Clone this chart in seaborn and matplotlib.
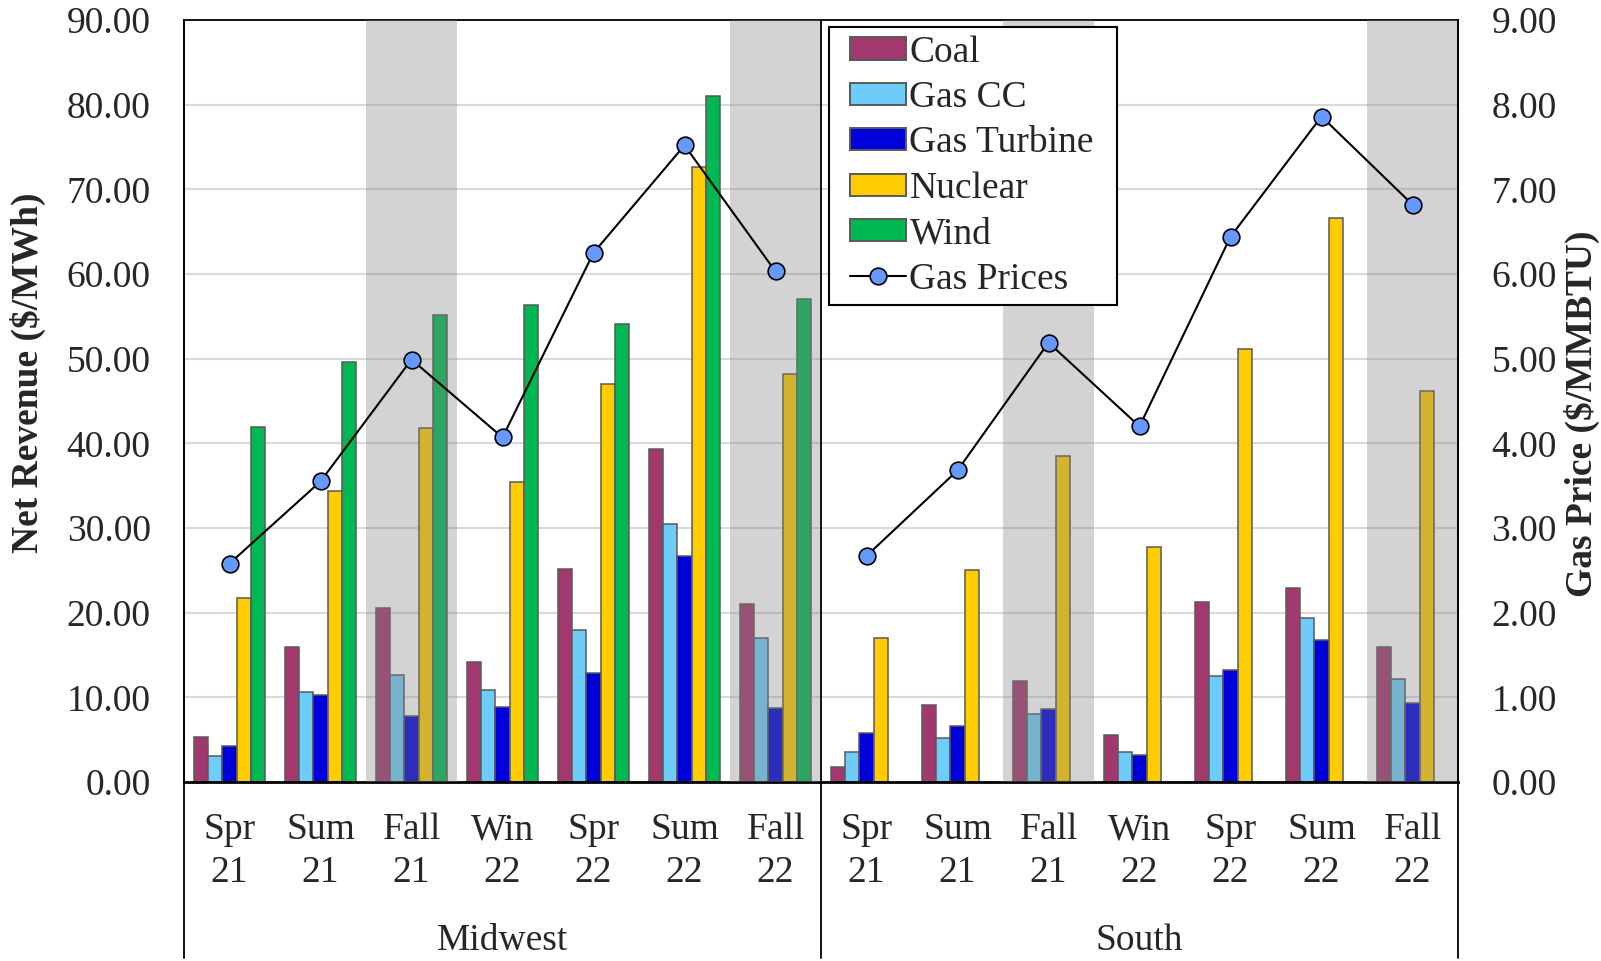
import numpy as np
import pandas as pd
import matplotlib
matplotlib.use("Agg")
import matplotlib.pyplot as plt
from matplotlib.patches import Patch
from matplotlib.lines import Line2D
from matplotlib.legend_handler import HandlerPatch, HandlerLine2D
from matplotlib.ticker import StrMethodFormatter
import seaborn as sns

# ---- data -------------------------------------------------------------
regions = ["Midwest", "South"]
seasons = ["Spr\n21", "Sum\n21", "Fall\n21", "Win\n22", "Spr\n22", "Sum\n22", "Fall\n22"]
technologies = ["Coal", "Gas CC", "Gas Turbine", "Nuclear", "Wind"]
shaded_seasons = ["Fall\n21", "Fall\n22"]

midwest_coal = [5.3, 16.0, 20.6, 14.2, 25.1, 39.3, 21.0]
midwest_gas_cc = [3.1, 10.6, 12.6, 10.9, 17.9, 30.5, 17.0]
midwest_gas_turbine = [4.3, 10.3, 7.8, 8.8, 12.9, 26.7, 8.7]
midwest_nuclear = [21.7, 34.4, 41.8, 35.4, 47.0, 72.6, 48.2]
midwest_wind = [41.9, 49.6, 55.1, 56.3, 54.1, 81.0, 57.0]
midwest_gas_price = [2.58, 3.55, 4.99, 4.07, 6.25, 7.52, 6.03]

south_coal = [1.8, 9.1, 11.9, 5.6, 21.3, 22.9, 16.0]
south_gas_cc = [3.6, 5.2, 8.0, 3.6, 12.5, 19.4, 12.2]
south_gas_turbine = [5.8, 6.6, 8.6, 3.2, 13.2, 16.8, 9.3]
south_nuclear = [17.0, 25.0, 38.5, 27.7, 51.2, 66.6, 46.2]
south_wind = [None] * 7
south_gas_price = [2.67, 3.68, 5.19, 4.20, 6.44, 7.86, 6.82]

tech_colors = ["#a3386e", "#6ecdf8", "#0000da", "#ffcc00", "#00b852"]
marker_color = "#6699ff"

# ---- long-form table -------------------------------------------------
series = {
    "Midwest": [midwest_coal, midwest_gas_cc, midwest_gas_turbine, midwest_nuclear, midwest_wind],
    "South": [south_coal, south_gas_cc, south_gas_turbine, south_nuclear, south_wind],
}
rows = []
order = []
for region in regions:
    for i, season in enumerate(seasons):
        key = f"{region}|{season}"
        order.append(key)
        for tech, values in zip(technologies, series[region]):
            if values[i] is not None:
                rows.append({"period": key, "tech": tech, "value": values[i]})
df = pd.DataFrame(rows)

# ---- figure ----------------------------------------------------------
sns.set_style("white")
plt.rcParams["font.family"] = ["Liberation Serif", "DejaVu Serif"]
FS = 27

W, H = 1601, 961
fig = plt.figure(figsize=(W / 100, H / 100), dpi=100)
left, right, top, bottom = 184, 1458, 20, 782
ax = fig.add_axes([left / W, 1 - bottom / H, (right - left) / W, (bottom - top) / H])

sns.barplot(
    data=df, x="period", y="value", hue="tech",
    order=order, hue_order=technologies, palette=tech_colors, saturation=1,
    width=0.79, edgecolor="#595959", linewidth=1.1,
    errorbar=None, legend=False, ax=ax,
)

ax.set_xlim(-0.5, len(order) - 0.5)
ax.set_ylim(0, 90)
ax.set_axisbelow(True)
ax.yaxis.grid(True, color="#d9d9d9", linewidth=1.5)
ax.set_yticks(np.arange(0, 91, 10))
ax.yaxis.set_major_formatter(StrMethodFormatter("{x:.2f}"))
ax.tick_params(axis="y", length=0, pad=24, labelsize=FS)
ax.set_xticks(range(len(order)))
ax.set_xticklabels(seasons * 2, fontsize=FS, linespacing=1.3)
ax.tick_params(axis="x", length=0, pad=22)
ax.set_xlabel("")
ax.set_ylabel("")

# grey bands over the fall quarters
for idx, key in enumerate(order):
    if key.split("|")[1] in shaded_seasons:
        ax.axvspan(idx - 0.5, idx + 0.5, color=(131 / 255,) * 3, alpha=0.35,
                   linewidth=0, zorder=3)

for name, sp in ax.spines.items():
    sp.set_color("black")
    sp.set_linewidth(1.3)
ax.spines["bottom"].set_linewidth(2.0)

# frame lines extending through the category label area
ext = -(958 - bottom) / (bottom - top)
for xf in (0.0, 0.5, 1.0):
    ax.plot([xf, xf], [1.0, ext], transform=ax.transAxes, color="black",
            linewidth=1.3, clip_on=False, zorder=5)

for xf, region in zip((0.25, 0.75), regions):
    ax.text(xf, -(941 - bottom) / (bottom - top), region, transform=ax.transAxes,
            ha="center", va="center", fontsize=FS)

# ---- gas price on secondary axis ---------------------------------------
ax2 = ax.twinx()
ax2.set_ylim(0, 9)
ax2.set_yticks(np.arange(0, 10, 1))
ax2.yaxis.set_major_formatter(StrMethodFormatter("{x:.2f}"))
ax2.tick_params(axis="y", length=0, pad=24, labelsize=FS)
for sp in ax2.spines.values():
    sp.set_visible(False)

line_kw = dict(color="black", linewidth=1.5, marker="o", markersize=12,
               markerfacecolor=marker_color, markeredgecolor="black",
               markeredgewidth=1.2)
ax2.plot(range(0, 7), midwest_gas_price, **line_kw)
ax2.plot(range(7, 14), south_gas_price, **line_kw)

# ---- legend ----------------------------------------------------------
handles = [Patch(facecolor=c, edgecolor="#595959", linewidth=1.4) for c in tech_colors]
handles.append(Line2D([], [], **line_kw))
labels = technologies + ["Gas Prices"]
lx0 = (829 - left) / (right - left)
lw_ = (1117 - 829) / (right - left)
ltop = (bottom - 27) / (bottom - top)
leg = ax2.legend(
    handles, labels, loc="upper left", mode="expand",
    bbox_to_anchor=(lx0, ltop - 0.5, lw_, 0.5),
    borderaxespad=0, fontsize=FS, frameon=True, fancybox=False, framealpha=1,
    edgecolor="black", handlelength=1.845, handleheight=0.53, handletextpad=0.08,
    labelspacing=0.29, borderpad=0.22,
    handler_map={Patch: HandlerPatch(xpad=0.35), Line2D: HandlerLine2D(xpad=0.35)},
)
leg.get_frame().set_linewidth(1.5)

# ---- axis titles -----------------------------------------------------
fig.text(28 / W, 1 - 373 / H, "Net Revenue ($/MWh)", rotation=90,
         ha="center", va="center", fontsize=FS, fontweight="bold")
fig.text(1582 / W, 1 - 414 / H, "Gas Price ($/MMBTU)", rotation=90,
         ha="center", va="center", fontsize=FS, fontweight="bold")

fig.savefig("out.png", dpi=100)
